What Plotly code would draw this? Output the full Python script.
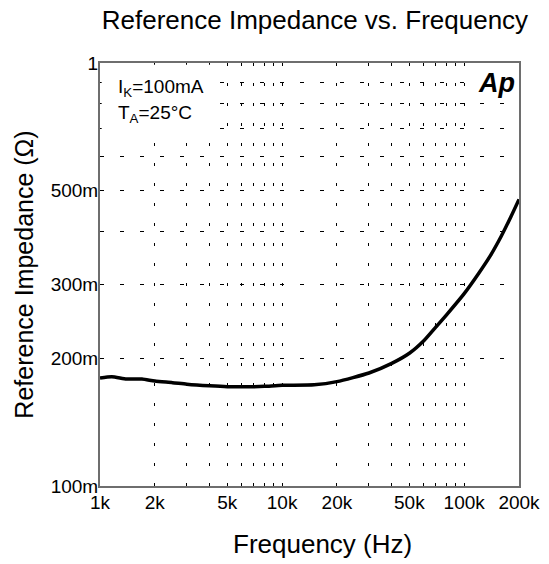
import numpy as np
import plotly.graph_objects as go

# Data
freq_hz = [1000, 1160, 1400, 1700, 2000, 2500, 3000, 4000, 5000, 7000, 8000,
           10000, 15000, 20000, 30000, 40000, 50000, 60000, 70000, 80000,
           100000, 120000, 139000, 160000, 180000, 200000]
impedance_ohm = [0.180, 0.1813, 0.179, 0.179, 0.177, 0.1755, 0.174, 0.1725, 0.1717,
                 0.1717, 0.172, 0.173, 0.1735, 0.1765, 0.185, 0.195, 0.206, 0.2205,
                 0.2378, 0.254, 0.285, 0.318, 0.350, 0.390, 0.432, 0.476]

x_tickvals = [1000, 2000, 5000, 10000, 20000, 50000, 100000, 200000]
x_ticktext = ["1k", "2k", "5k", "10k", "20k", "50k", "100k", "200k"]
x_minor_grid = [3000, 4000, 6000, 7000, 8000, 9000,
                30000, 40000, 60000, 70000, 80000, 90000]

y_tickvals = [0.1, 0.2, 0.3, 0.5, 1]
y_ticktext = ["100m", "200m", "300m", "500m", "1"]
y_minor_grid = [0.4, 0.6, 0.7, 0.8, 0.9]

FONT = "Liberation Sans, Arial, Helvetica, sans-serif"

fig = go.Figure()
fig.add_trace(go.Scatter(
    x=freq_hz, y=impedance_ohm, mode="lines",
    line=dict(color="black", width=3.5, shape="spline", smoothing=0.6),
    showlegend=False, hoverinfo="skip"))

fig.update_layout(
    width=549, height=564,
    margin=dict(l=100, r=30, t=63, b=78),
    paper_bgcolor="white", plot_bgcolor="white",
    font=dict(family=FONT, color="black"),
    title=dict(text="Reference Impedance vs. Frequency",
               font=dict(size=26, family=FONT, color="black"),
               xref="paper", x=0.513, xanchor="center",
               yref="container", y=1 - 20 / 564, yanchor="middle"),
)

fig.update_xaxes(
    type="log", range=[3, np.log10(200000)],
    tickmode="array", tickvals=x_tickvals, ticktext=x_ticktext,
    tickfont=dict(size=19, family=FONT, color="black"),
    ticks="", ticklabelstandoff=-2,
    showgrid=True, gridcolor="black", gridwidth=1, griddash="3px,17px",
    minor=dict(tickmode="array", tickvals=x_minor_grid, showgrid=True,
               gridcolor="black", gridwidth=1, griddash="3px,17px", ticks=""),
    showline=True, linecolor="#6e6e6e", linewidth=2, mirror=True,
    zeroline=False,
    automargin=False,
)

fig.update_yaxes(
    type="log", range=[-1, 0],
    tickmode="array", tickvals=y_tickvals, ticktext=y_ticktext,
    tickfont=dict(size=19, family=FONT, color="black"),
    ticks="", ticklabelstandoff=-4,
    showgrid=True, gridcolor="black", gridwidth=1, griddash="4px,16px",
    minor=dict(tickmode="array", tickvals=y_minor_grid, showgrid=True,
               gridcolor="black", gridwidth=1, griddash="4px,16px", ticks=""),
    showline=True, linecolor="#6e6e6e", linewidth=2, mirror=True,
    zeroline=False,
    title=dict(text="Reference Impedance (Ω)", font=dict(size=25, family=FONT, color="black"),
               standoff=10),
    automargin=False,
)

# x-axis title (placed as annotation to match its offset)
fig.add_annotation(text="Frequency (Hz)", xref="paper", yref="paper",
                   x=0.53, y=(486 - 544) / 423, xanchor="center", yanchor="middle",
                   showarrow=False, font=dict(size=26, family=FONT, color="black"))

# white box behind the conditions text
fig.add_shape(type="rect", xref="x domain", yref="y domain",
              x0=0.004, x1=0.274, y0=0.842, y1=0.996,
              fillcolor="white", line=dict(width=0), layer="above")

fig.add_annotation(text="I<sub>K</sub>=100mA", xref="x domain", yref="y domain",
                   x=0.038, y=0.940, xanchor="left", yanchor="middle", showarrow=False,
                   font=dict(size=19, family=FONT, color="black"))
fig.add_annotation(text="T<sub>A</sub>=25°C", xref="x domain", yref="y domain",
                   x=0.038, y=0.880, xanchor="left", yanchor="middle", showarrow=False,
                   font=dict(size=19, family=FONT, color="black"))
fig.add_annotation(text="<b><i>Ap</i></b>", xref="x domain", yref="y domain",
                   x=0.993, y=0.99, xanchor="right", yanchor="top", showarrow=False,
                   bgcolor="white", borderpad=0,
                   font=dict(size=27, family="Liberation Sans Narrow, Liberation Sans, Arial",
                             color="black"))

fig.write_html("out.html", config={"displayModeBar": False},
               post_script="document.body.style.margin='0';")
